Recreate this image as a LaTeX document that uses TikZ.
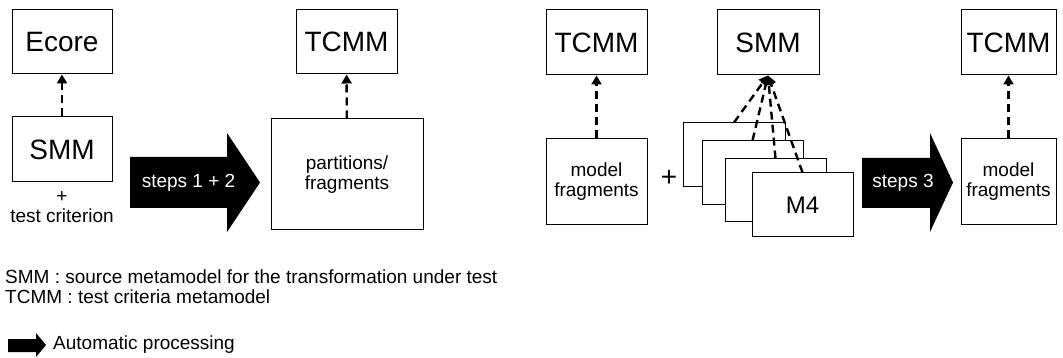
\documentclass[tikz,border=0pt]{standalone}
\usepackage{fontspec}
\setmainfont{Liberation Sans}
\usetikzlibrary{arrows.meta}
\begin{document}
\begin{tikzpicture}[x=1pt,y=-1pt,
  box/.style={draw, line width=1pt, fill=white, inner sep=0pt, align=center},
  big/.style={font=\fontsize{28}{32}\selectfont},
  small/.style={font=\fontsize{19}{20}\selectfont},
  dep/.style={line width=2.4pt, dash pattern=on 8pt off 5pt, -{Triangle[width=10pt,length=9pt]}},
  bigarrow/.style={fill=black}]
\useasboundingbox (0,0) rectangle (1063,358);
\node[box, big, minimum width=100pt, minimum height=64pt] (ecore) at (62,42){Ecore};
\node[box, big, minimum width=100pt, minimum height=65pt] (smmA) at (62,149.5){SMM};
\node[small, align=center, inner sep=0pt] (crit) at (62,207.5){+\\test criterion};
\draw[dep](smmA) -- (ecore);
\fill[bigarrow] (130,157) -- (227,157) -- (227,133) -- (260,182.5) -- (227,232) -- (227,208) -- (130,208) -- cycle;
\node[small, white, inner sep=0pt] (step12) at (188.5,183){steps 1 + 2};
\node[box, big, minimum width=101pt, minimum height=64pt] (tcmmA) at (346.5,42){TCMM};
\node[box, small, minimum width=152pt, minimum height=111pt] (part) at (347,174.5){partitions/\\fragments};
\draw[dep](part) -- (tcmmA);
\node[box, big, minimum width=101pt, minimum height=65pt] (tcmmB) at (596.5,42.5){TCMM};
\node[box, small, minimum width=101pt, minimum height=86pt] (fragB) at (596.5,182){model\\fragments};
\draw[dep](fragB) -- (tcmmB);
\node[big, inner sep=0pt] (plus) at (669,178){+};
\node[box, big, minimum width=102pt, minimum height=65pt] (smmB) at (768,42.5){SMM};
\node[box, minimum width=102pt, minimum height=64pt] (m1) at (734,155){};
\node[box, minimum width=101pt, minimum height=64pt] (m2) at (752.5,173){};
\node[box, minimum width=101pt, minimum height=63pt] (m3) at (775.5,190.5){};
\node[box, minimum width=101pt, minimum height=64pt, font=\fontsize{24}{28}\selectfont] (m4) at (802.5,205){M4};
\draw[dep](m1.north) -- (smmB.south);
\draw[dep](m2.north) -- (smmB.south);
\draw[dep](m3.north) -- (smmB.south);
\draw[dep](m4.north) -- (smmB.south);
\fill[bigarrow] (862,158) -- (930,158) -- (930,133) -- (953,182.5) -- (930,232) -- (930,208) -- (862,208) -- cycle;
\node[small, white, inner sep=0pt] (step3) at (903,183){steps 3};
\node[box, big, minimum width=95pt, minimum height=65pt] (tcmmC) at (1008.5,42.5){TCMM};
\node[box, small, minimum width=95pt, minimum height=86pt] (fragC) at (1008.5,182){model\\fragments};
\draw[dep](fragC) -- (tcmmC);
% legend
\node[small, anchor=west, align=left, inner sep=0pt] (legend) at (5,287){SMM : source metamodel for the transformation under test\\TCMM : test criteria metamodel};
\fill[bigarrow] (8,339) -- (36,339) -- (36,333) -- (46,345) -- (36,357) -- (36,352) -- (8,352) -- cycle;
\node[small, anchor=west, inner sep=0pt] (auto) at (53,345){Automatic processing};
\end{tikzpicture}
\end{document}
